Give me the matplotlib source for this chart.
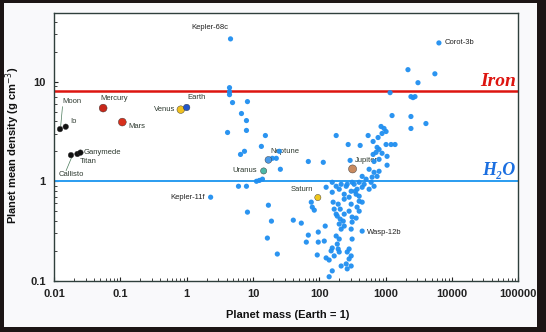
import numpy as np
import matplotlib
matplotlib.use("Agg")
import matplotlib.pyplot as plt
from matplotlib.patches import Rectangle

# exoplanets: mass (Earth = 1), mean density (g cm-3)
exo_mass = [4.59, 4.43, 4.43, 4.43, 4.92, 8.26, 6.71, 7.98, 7.98, 4.14,
			15.4, 13.4, 7.45, 6.49, 19.6, 22.5, 25.0, 25.9, 68.4, 115,
			11.3, 12.5, 13.9, 6.05, 7.98, 2.30, 17.1, 8.26, 19.0, 40.6,
			53.6, 16.5, 23.3, 68.4, 96.6, 123, 63.8, 96.6, 93.3, 75.8,
			78.5, 84.1, 6380, 2178, 5546, 3083, 1170, 2415, 2594, 2780,
			1253, 2415, 4064, 2415, 180, 546, 855, 949, 1018, 885,
			771, 649, 273, 414, 745, 1018, 1211, 1390, 292, 649,
			719, 798, 885, 671, 798, 1054, 1054, 565, 671, 798,
			745, 627, 509, 605, 444, 400, 313, 157, 180, 214,
			255, 127, 157, 238, 303, 444, 565, 671, 400, 162,
			168, 180, 187, 207, 230, 200, 238, 214, 282, 303,
			282, 313, 303, 313, 372, 400, 360, 348, 444, 200,
			187, 193, 180, 157, 151, 168, 200, 282, 264, 303,
			282, 255, 214, 264, 157, 303, 141, 127, 141, 313,
			360, 400, 444, 119, 200, 238, 264, 336, 372, 475,
			207, 238, 193]
exo_density = [26.9, 8.71, 7.94, 7.41, 6.17, 6.31, 4.79, 4.07, 3.24, 3.09,
			2.88, 2.24, 2.00, 1.86, 1.70, 1.70, 2.00, 1.32, 1.58, 1.55,
			1.00, 1.02, 1.05, 0.891, 0.891, 0.692, 0.575, 0.490, 0.398, 0.407,
			0.380, 0.269, 0.186, 0.288, 0.309, 0.355, 0.245, 0.245, 0.182, 0.617,
			0.550, 0.513, 24.5, 13.2, 12.0, 9.77, 7.76, 7.08, 6.92, 7.08,
			4.57, 4.47, 3.80, 3.39, 2.88, 2.88, 3.55, 3.39, 3.16, 3.02,
			2.75, 2.51, 2.34, 2.29, 2.19, 2.34, 2.34, 2.34, 1.62, 1.86,
			1.95, 2.09, 1.91, 1.58, 1.66, 1.45, 1.78, 1.32, 1.23, 1.26,
			1.12, 1.10, 1.05, 0.977, 1.12, 0.977, 0.977, 0.977, 0.891, 0.933,
			0.891, 0.871, 0.776, 0.741, 0.794, 0.871, 0.832, 0.891, 0.708, 0.617,
			0.525, 0.468, 0.447, 0.417, 0.398, 0.372, 0.355, 0.331, 0.692, 0.589,
			0.501, 0.437, 0.331, 0.389, 0.550, 0.631, 0.741, 0.794, 0.316, 0.263,
			0.234, 0.209, 0.282, 0.214, 0.200, 0.178, 0.195, 0.209, 0.195, 0.178,
			0.166, 0.148, 0.141, 0.132, 0.126, 0.141, 0.110, 0.170, 0.162, 0.263,
			0.427, 0.501, 0.617, 0.251, 0.832, 0.661, 0.933, 0.933, 0.832, 0.933,
			0.525, 0.468, 0.589]

# named exoplanets
exo_names = ["Kepler-68c", "Corot-3b", "Wasp-12b", "Kepler-11f"]
exo_name_mass = [4.3, 7850, 527, 1.87]
exo_name_dens = [34.7, 24.5, 0.309, 0.692]
exo_name_ha = ["right", "left", "left", "right"]

# solar system bodies
ss_names = ["Moon", "Io", "Callisto", "Titan", "Ganymede", "Mercury", "Mars",
			"Venus", "Earth", "Uranus", "Neptune", "Saturn", "Jupiter"]
ss_mass = [0.0123, 0.015, 0.018, 0.0225, 0.025, 0.055, 0.107,
		   0.815, 1.0, 14.5, 17.1, 95.2, 318]
ss_density = [3.34, 3.53, 1.83, 1.88, 1.94, 5.43, 3.93,
			  5.24, 5.51, 1.27, 1.64, 0.687, 1.33]
ss_colors = ["#111111", "#111111", "#111111", "#111111", "#111111", "#c8281a", "#d8301c",
			 "#f0c020", "#2255c8", "#4cb8a8", "#4a9ae8", "#eec61e", "#c88a60"]
ss_sizes = [16, 16, 16, 16, 16, 32, 32, 30, 22, 20, 24, 20, 34]

# label positions for solar system bodies
lab_names = ["Moon", "Io", "Mercury", "Mars", "Venus", "Earth", "Ganymede",
			 "Titan", "Callisto", "Neptune", "Uranus", "Jupiter", "Saturn"]
lab_mass = [0.0132, 0.0174, 0.0492, 0.13, 0.684, 1.035, 0.0283,
			0.0246, 0.0119, 18.3, 11.7, 348, 36.6]
lab_dens = [6.3, 3.98, 6.76, 3.55, 5.25, 6.92, 1.95,
			1.58, 1.17, 2.0, 1.29, 1.62, 0.83]
lab_ha = ["left", "left", "left", "left", "right", "left", "left",
		  "left", "left", "left", "right", "left", "left"]

iron_density = 8.0
water_density = 1.0

xticks = [0.01, 0.1, 1, 10, 100, 1000, 10000, 100000]
xticklabels = ["0.01", "0.1", "1", "10", "100", "1000", "10000", "100000"]
yticks = [0.1, 1, 10]
yticklabels = ["0.1", "1", "10"]

plt.rcParams['font.family'] = ['Liberation Sans', 'DejaVu Sans']

fig = plt.figure(figsize=(5.46, 3.32), dpi=100)
fig.patch.set_facecolor("#1c1515")
fig.patches.append(Rectangle((0.007, 0.015), 0.976, 0.976, transform=fig.transFigure,
							 facecolor="#f9f9fb", edgecolor="none", zorder=-10))

ax = fig.add_axes([0.099, 0.154, 0.850, 0.807])
ax.set_facecolor("white")
ax.set_xscale("log")
ax.set_yscale("log")
ax.set_xlim(0.01, 100000)
ax.set_ylim(0.1, 49)

ax.axhline(iron_density, color="#dd1510", lw=1.8, zorder=2)
ax.axhline(water_density, color="#2a9cf0", lw=1.4, zorder=2)

ax.scatter(exo_mass, exo_density, s=14, color="#1f8ef0", edgecolors="none", alpha=0.95, zorder=4)
ax.scatter(ss_mass, ss_density, s=ss_sizes, c=ss_colors, edgecolors="#333333", linewidths=0.3, zorder=5)

for name, m, d, ha in zip(lab_names, lab_mass, lab_dens, lab_ha):
	ax.text(m, d, name, fontsize=5.5, ha=ha, va="center", color="#2e3a30", zorder=3)
for name, m, d, ha in zip(exo_names, exo_name_mass, exo_name_dens, exo_name_ha):
	ax.text(m, d, name, fontsize=5.5, ha=ha, va="center", color="#222222", zorder=3)

# leader lines for Moon and Callisto
ax.plot([0.0134, 0.0126], [5.6, 3.6], color="#4a7a5a", lw=0.5, zorder=3)
ax.plot([0.0185, 0.0152], [1.75, 1.28], color="#4a7a5a", lw=0.5, zorder=3)

ax.text(0.995, iron_density * 1.04, "Iron", transform=ax.get_yaxis_transform(), ha="right", va="bottom",
		fontsize=14, color="#dd1510", fontweight="bold", style="italic",
		family=["Liberation Serif", "DejaVu Serif"])
ax.text(0.995, water_density * 1.05, "H\u2082O", transform=ax.get_yaxis_transform(), ha="right", va="bottom",
		fontsize=13, color="#1a6ee0", fontweight="bold", style="italic",
		family=["Liberation Serif", "DejaVu Serif"])

ax.set_xticks(xticks)
ax.set_xticklabels(xticklabels)
ax.set_yticks(yticks)
ax.set_yticklabels(yticklabels)
ax.tick_params(which="both", direction="in", colors="#222222", labelsize=8)
ax.tick_params(which="major", length=3, width=0.8, pad=6)
ax.tick_params(which="minor", length=2, width=0.6)
for lab in ax.get_xticklabels() + ax.get_yticklabels():
	lab.set_fontweight("bold")
for sp in ax.spines.values():
	sp.set_color("#2f3f3c")
	sp.set_linewidth(1.0)

fig.text(0.526, 0.051, "Planet mass (Earth = 1)", ha="center", va="center",
		 fontsize=8, fontweight="bold", color="#111111")
fig.text(0.024, 0.563, r"Planet mean density (g cm$^{-3}$)", ha="center", va="center",
		 rotation=90, fontsize=8, fontweight="bold", color="#111111")

fig.savefig("out.png", dpi=100, facecolor=fig.get_facecolor())
